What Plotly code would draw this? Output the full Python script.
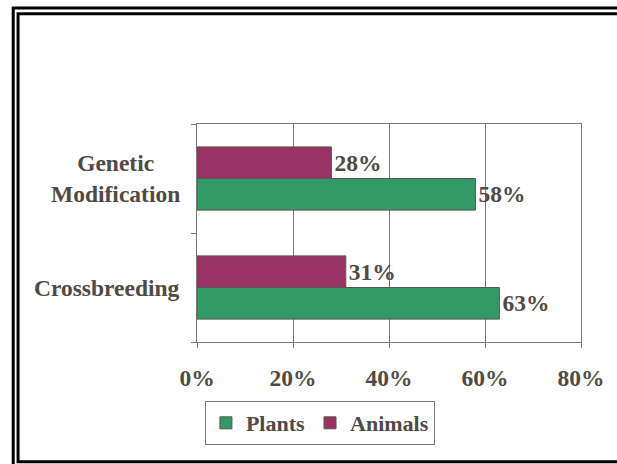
import plotly.graph_objects as go

categories = ["Crossbreeding", "Genetic Modification"]
category_labels = ["Crossbreeding", "Genetic<br>Modification"]
plants = [0.63, 0.58]
animals = [0.31, 0.28]
x_ticks = [0, 0.2, 0.4, 0.6, 0.8]
x_tick_labels = ["0%", "20%", "40%", "60%", "80%"]

W, H = 617, 464
L, R, T, B = 197, 585, 124, 342
TXT = "#4f4a44"
AX = "#7d7873"
FONT = "Liberation Serif"

def px(x):
    return (x - L) / (R - L)

def py(y):
    return (B - y) / (B - T)

fig = go.Figure()
fig.add_trace(go.Bar(
    y=categories, x=plants, name="<b>Plants</b>", orientation="h",
    marker=dict(color="#339966", line=dict(color="#5a554f", width=1)),
    texttemplate="<b>%{x:.0%}</b>", textposition="outside", cliponaxis=False,
    textfont=dict(family=FONT, size=23.5, color=TXT),
))
fig.add_trace(go.Bar(
    y=categories, x=animals, name="<b>Animals</b>", orientation="h",
    marker=dict(color="#993366", line=dict(color="#5a554f", width=1)),
    texttemplate="<b>%{x:.0%}</b>", textposition="outside", cliponaxis=False,
    textfont=dict(family=FONT, size=23.5, color=TXT),
))

annotations = []
for c, lab in zip(categories, category_labels):
    annotations.append(dict(
        x=px(182), xref="paper", y=c, yref="y", text="<b>" + lab + "</b>",
        showarrow=False, xanchor="right", yanchor="middle", align="center",
        font=dict(family=FONT, size=23.5, color=TXT),
    ))

shapes = [
    dict(type="rect", xref="paper", yref="paper",
         x0=px(11.3), x1=px(660), y0=py(480), y1=py(8),
         line=dict(color="black", width=3), fillcolor="rgba(0,0,0,0)"),
    dict(type="rect", xref="paper", yref="paper",
         x0=px(16.2), x1=px(640), y0=py(461.8), y1=py(13.8),
         line=dict(color="black", width=3), fillcolor="rgba(0,0,0,0)"),
]

fig.update_layout(
    width=W, height=H,
    margin=dict(l=L, r=W - R, t=T, b=H - B, pad=0),
    paper_bgcolor="white", plot_bgcolor="white",
    barmode="group", bargap=0.42, bargroupgap=0,
    font=dict(family=FONT, size=23, color=TXT),
    showlegend=True,
    legend=dict(
        orientation="h", x=px(205), y=py(401), xanchor="left", yanchor="top",
        bordercolor=AX, borderwidth=1, bgcolor="white",
        font=dict(family=FONT, size=22, color=TXT),
        traceorder="normal", itemwidth=30, tracegroupgap=0,
    ),
    xaxis=dict(
        range=[0, 0.8], tickvals=x_ticks, ticktext=["<b>" + t + "</b>" for t in x_tick_labels],
        showgrid=True, gridcolor=AX, gridwidth=1,
        showline=True, linecolor=AX, linewidth=1, mirror=True,
        ticks="outside", ticklen=5, tickcolor=AX, zeroline=False,
        tickfont=dict(family=FONT, size=23.5, color=TXT),
        ticklabelstandoff=10, fixedrange=True,
    ),
    yaxis=dict(
        type="category", categoryorder="array", categoryarray=categories,
        showticklabels=False, showgrid=False,
        showline=True, linecolor=AX, linewidth=1, mirror=True,
        ticks="outside", ticklen=5, tickcolor=AX, tickson="boundaries",
        fixedrange=True,
    ),
    annotations=annotations,
    shapes=shapes,
)

fig.write_html(
    "out.html",
    config={"displayModeBar": False},
    post_script="document.body.style.margin='0';document.body.style.padding='0';",
)
